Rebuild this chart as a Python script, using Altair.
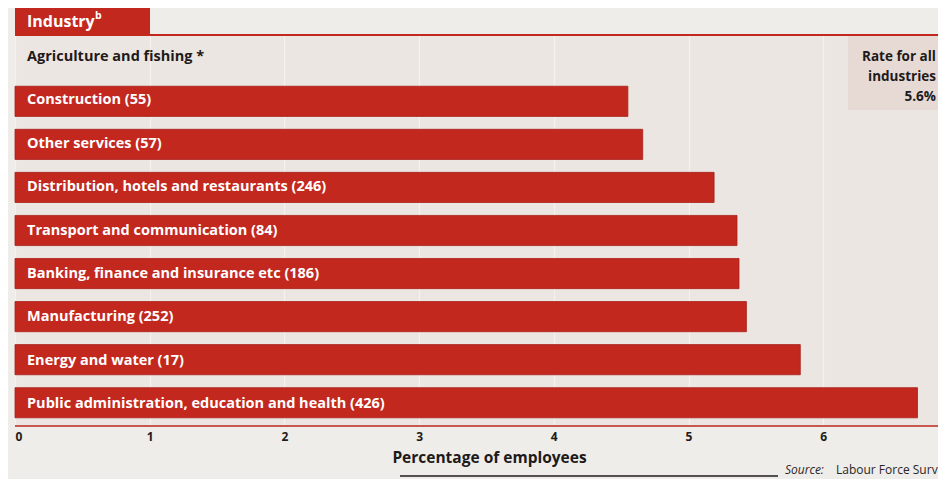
import altair as alt
import pandas as pd

industries = [
    "Agriculture and fishing *",
    "Construction (55)",
    "Other services (57)",
    "Distribution, hotels and restaurants (246)",
    "Transport and communication (84)",
    "Banking, finance and insurance etc (186)",
    "Manufacturing (252)",
    "Energy and water (17)",
    "Public administration, education and health (426)",
]
values = [None, 4.55, 4.66, 5.19, 5.36, 5.375, 5.43, 5.83, 6.70]
ticks = [0, 1, 2, 3, 4, 5, 6]
rate_lines = ["Rate for all", "industries", "5.6%"]

df = pd.DataFrame({"industry": industries, "value": values})

RED = "#c3281f"
FONT = "Open Sans"
W, H = 923, 391
XMAX = 923 / 134.7

xscale = alt.Scale(domain=[0, XMAX], nice=False, zero=True)
yscale = alt.Scale(domain=industries, paddingInner=0.3, paddingOuter=0.19)

base = alt.Chart(df)

bars = base.mark_bar(color=RED, stroke="#a8211a", strokeWidth=0.8).encode(
    x=alt.X(
        "value:Q",
        scale=xscale,
        axis=alt.Axis(
            values=ticks,
            format="d",
            title="Percentage of employees",
            titleX=474,
            titleFont=FONT,
            titleFontSize=15.5,
            titleFontWeight="bold",
            titleColor="#1e1a1a",
            titlePadding=8,
            labelFont=FONT,
            labelFontSize=12,
            labelFontWeight="bold",
            labelColor="#1e1a1a",
            labelPadding=5,
            domain=False,
            ticks=False,
            tickSize=0,
            grid=True,
            gridColor="#f4f1ee",
            gridWidth=1.2,
        ),
    ),
    y=alt.Y("industry:N", scale=yscale, axis=None),
)

labels = base.mark_text(
    align="left", baseline="middle", font=FONT, fontSize=14.5, fontWeight="bold"
).encode(
    x=alt.value(12),
    y=alt.Y("industry:N", scale=yscale, axis=None),
    text="industry:N",
    color=alt.condition("isValid(datum.value)", alt.value("white"), alt.value("#1e1a1a")),
)

top_line = alt.Chart(df).mark_rule(color=RED, strokeWidth=1.5).encode(
    x=alt.value(0), x2=alt.value(W), y=alt.value(0)
)
bottom_line = alt.Chart(df).mark_rule(color="#c85a50", strokeWidth=1.5).encode(
    x=alt.value(0), x2=alt.value(W), y=alt.value(H)
)

header_box = alt.Chart(df).mark_rect(color=RED).encode(
    x=alt.value(0), x2=alt.value(135), y=alt.value(-27), y2=alt.value(0)
)
header_text = alt.Chart(pd.DataFrame({"t": ["Industry"]})).mark_text(
    align="left", baseline="middle", font=FONT, fontSize=16, fontWeight="bold", color="white"
).encode(x=alt.value(12), y=alt.value(-13), text="t:N")
header_sup = alt.Chart(pd.DataFrame({"t": ["b"]})).mark_text(
    align="left", baseline="middle", font=FONT, fontSize=10.5, fontWeight="bold", color="white"
).encode(x=alt.value(80), y=alt.value(-19), text="t:N")

rate_box = alt.Chart(df).mark_rect(color="#e7dad4").encode(
    x=alt.value(833), x2=alt.value(W), y=alt.value(1), y2=alt.value(75)
)
rate_df = pd.DataFrame({"t": rate_lines, "i": [0, 1, 2]})
rate_text = alt.Chart(rate_df).mark_text(
    align="right", baseline="middle", font=FONT, fontSize=13.5, fontWeight="bold", color="#1e1a1a"
).encode(
    x=alt.value(921),
    y=alt.Y("i:Q", scale=alt.Scale(domain=[0, 2], range=[22, 62]), axis=None),
    text="t:N",
)

src1 = alt.Chart(pd.DataFrame({"t": ["Source:"]})).mark_text(
    align="left", baseline="middle", font=FONT, fontSize=12, fontStyle="italic", color="#2a2626"
).encode(x=alt.value(770), y=alt.value(435), text="t:N")
src2 = alt.Chart(pd.DataFrame({"t": ["Labour Force Surv"]})).mark_text(
    align="left", baseline="middle", font=FONT, fontSize=12, color="#2a2626"
).encode(x=alt.value(821), y=alt.value(435), text="t:N")
src_line = alt.Chart(df).mark_rule(color="#555050", strokeWidth=1).encode(
    x=alt.value(385), x2=alt.value(763), y=alt.value(441)
)

chart = (
    alt.layer(
        rate_box, bars, labels, top_line, bottom_line, header_box, header_text,
        header_sup, rate_text, src1, src2, src_line,
    )
    .properties(
        width=W,
        height=H,
        padding={"left": 7, "top": 27, "right": 0, "bottom": 53},
        autosize=alt.AutoSizeParams(type="none"),
        background="#eeede9",
    )
    .configure_view(fill="#ebe6e2", stroke=None)
)

chart.save("out.html", embed_options={"renderer": "svg", "actions": False})
